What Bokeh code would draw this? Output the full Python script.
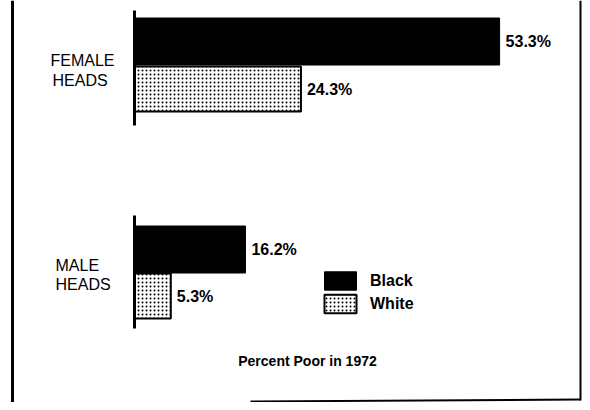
from bokeh.plotting import figure
from bokeh.models import Range1d, Legend, LegendItem, ColumnDataSource
from bokeh.core.properties import value
from bokeh.embed import file_html
from bokeh.resources import INLINE

# ---- data ----
group_line1 = ["FEMALE", "MALE"]
group_line2 = ["HEADS", "HEADS"]
black_pct = [53.3, 16.2]
white_pct = [24.3, 5.3]
series_names = ["Black", "White"]
title_text = "Percent Poor in 1972"

# ---- layout (reference pixel coordinates) ----
W, H = 582, 402
ZERO_PX = 134.0
PX_PER_PCT = 6.85
black_y = [41, 249]
white_y = [88.5, 295.5]
BAR_H_B = 47
BAR_H_W = 45
group_y1 = [60, 265]
group_y2 = [80, 284]

p = figure(width=W, height=H, output_backend="svg", toolbar_location=None,
           x_range=Range1d((0 - ZERO_PX) / PX_PER_PCT, (W - ZERO_PX) / PX_PER_PCT),
           y_range=Range1d(H, 0), min_border=0)
p.extra_x_ranges = {"px": Range1d(0, W)}
p.axis.visible = False
p.grid.visible = False
p.outline_line_color = None
p.background_fill_color = "white"
p.border_fill_color = "white"

# frame lines (decoration)
p.segment(x0=[12, 580, 250], y0=[0, 0, 401], x1=[12, 580, 580], y1=[402, 400, 399],
          line_color="black", line_width=[3, 2, 2], x_range_name="px")

# bars
src_b = ColumnDataSource(dict(y=black_y, right=black_pct, lab=[f"{v}%" for v in black_pct]))
src_w = ColumnDataSource(dict(y=white_y, right=white_pct, lab=[f"{v}%" for v in white_pct]))

rb = p.hbar(y="y", left=0, right="right", height=BAR_H_B, source=src_b,
            fill_color="black", line_color="black", line_width=1)
rw = p.hbar(y="y", left=0, right="right", height=BAR_H_W, source=src_w,
            fill_color="white", line_color="black", line_width=2,
            hatch_pattern="dot", hatch_color="black", hatch_scale=4, hatch_weight=3)

# axis lines per group
p.segment(x0=[0, 0], y0=[10, 215], x1=[0, 0], y1=[125, 328],
          line_color="black", line_width=3)

# value labels
for src in (src_b, src_w):
    p.text(x="right", y="y", text="lab", source=src, x_offset=6,
           text_baseline="middle", text_align="left",
           text_font=value("Liberation Sans"), text_font_style="bold",
           text_font_size="16px", text_color="black")

# group labels
p.text(x=[50, 55], y=group_y1, text=group_line1, x_range_name="px",
       text_baseline="middle", text_font=value("Liberation Sans"),
       text_font_size="16px", text_color="black")
p.text(x=[52, 55], y=group_y2, text=group_line2, x_range_name="px",
       text_baseline="middle", text_font=value("Liberation Sans"),
       text_font_size="16px", text_color="black")

# title at bottom
p.text(x=[307], y=[360], text=[title_text], x_range_name="px",
       text_baseline="middle", text_align="center",
       text_font=value("Liberation Sans"), text_font_style="bold",
       text_font_size="14px", text_color="black")

legend = Legend(items=[LegendItem(label=series_names[0], renderers=[rb]),
                       LegendItem(label=series_names[1], renderers=[rw])],
                location=(320, H - 315),
                glyph_width=40, glyph_height=23, spacing=0, padding=0, margin=0,
                label_standoff=10, label_height=23,
                label_text_font="Liberation Sans", label_text_font_style="bold",
                label_text_font_size="16px", label_text_color="black",
                border_line_color=None, background_fill_alpha=0)
p.add_layout(legend)

open("out.html", "w").write(file_html(p, INLINE))
